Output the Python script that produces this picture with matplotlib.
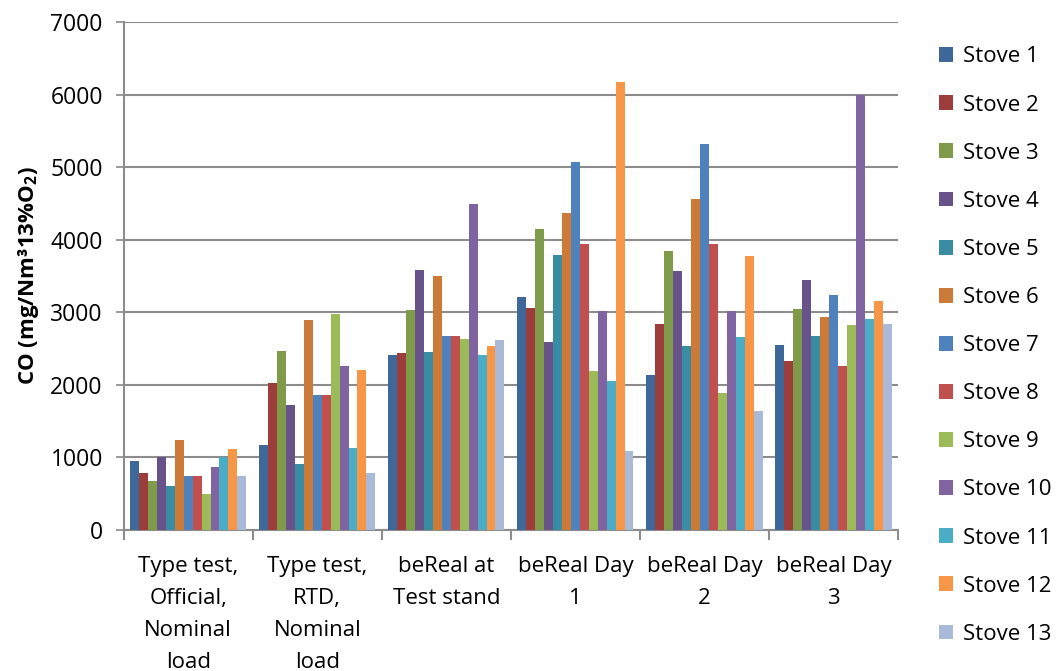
import numpy as np
import matplotlib
matplotlib.use("Agg")
import matplotlib.pyplot as plt

plt.rcParams["font.family"] = ["Open Sans", "DejaVu Sans"]
plt.rcParams["mathtext.fontset"] = "custom"
plt.rcParams["mathtext.bf"] = "Open Sans:bold"
plt.rcParams["mathtext.rm"] = "Open Sans:bold"
plt.rcParams["mathtext.default"] = "bf"

conditions = ["Type test,\nOfficial,\nNominal\nload",
              "Type test,\nRTD,\nNominal\nload",
              "beReal at\nTest stand",
              "beReal Day\n1", "beReal Day\n2", "beReal Day\n3"]
stoves = [f"Stove {i}" for i in range(1, 14)]

# CO per stove, one list per condition (mg/Nm3 at 13% O2)
type_official = [950, 790, 670, 1000, 600, 1240, 750, 750, 500, 870, 1000, 1120, 750]
type_rtd = [1170, 2020, 2460, 1725, 910, 2900, 1860, 1860, 2980, 2265, 1130, 2200, 790]
test_stand = [2405, 2446, 3025, 3586, 2451, 3503, 2676, 2676, 2639, 4497, 2405, 2538, 2616]
day1 = [3217, 3065, 4142, 2596, 3783, 4372, 5067, 3939, 2186, 3014, 2052, 6176, 1095]
day2 = [2141, 2845, 3840, 3568, 2532, 4558, 5318, 3941, 1883, 3016, 2657, 3780, 1634]
day3 = [2545, 2333, 3051, 3451, 2669, 2936, 3235, 2260, 2830, 5996, 2913, 3152, 2844]

colors = ["#3F689A", "#9D3D3B", "#7F9A48", "#68528A", "#3A8CA3", "#CC7A37",
          "#4F81BD", "#C0504D", "#9BBB59", "#8064A2", "#4BACC6", "#F79646",
          "#A9BAD8"]

values = np.array([type_official, type_rtd, test_stand, day1, day2, day3])

fig = plt.figure(figsize=(10.59, 6.71), dpi=100)
ax = fig.add_axes([0.1168, 0.2101, 0.7312, 0.7571])

n = len(stoves)
xs = np.arange(len(conditions))
w = 0.9 / n
for i in range(n):
    ax.bar(xs - 0.45 + w * (i + 0.5), values[:, i], width=w, color=colors[i],
           label=stoves[i], zorder=3, linewidth=0)

ax.set_xlim(-0.5, len(conditions) - 0.5)
ax.set_ylim(0, 7000)
ax.set_yticks(np.arange(0, 7001, 1000))
ax.tick_params(axis="y", labelsize=16.5, length=6, width=1.2, color="#8c8c8c",
               direction="out", pad=9)
ax.grid(axis="y", color="#8c8c8c", lw=1.5, zorder=0)

# category boundaries as ticks, labels at the centres
ax.set_xticks(np.arange(len(conditions) + 1) - 0.5)
ax.set_xticklabels([])
ax.tick_params(axis="x", which="major", length=7, width=1.5, color="#8c8c8c")
ax.set_xticks(xs, minor=True)
ax.set_xticklabels(conditions, minor=True, fontsize=16, linespacing=1.68)
ax.tick_params(axis="x", which="minor", length=0, pad=19)

for sp in ["top", "right"]:
    ax.spines[sp].set_visible(False)
for sp in ["left", "bottom"]:
    ax.spines[sp].set_color("#8c8c8c")
    ax.spines[sp].set_linewidth(1.5)

ax.set_ylabel(r"CO (mg/Nm³13%O$_2$)", fontsize=16, fontweight="bold",
              labelpad=7)

fig.legend(loc="upper left", bbox_to_anchor=(0.878, 0.944), frameon=False,
           fontsize=16, handlelength=0.65, handleheight=0.65, handletextpad=0.45,
           labelspacing=1.22, borderaxespad=0)

fig.savefig("out.png", dpi=100, facecolor="white")
